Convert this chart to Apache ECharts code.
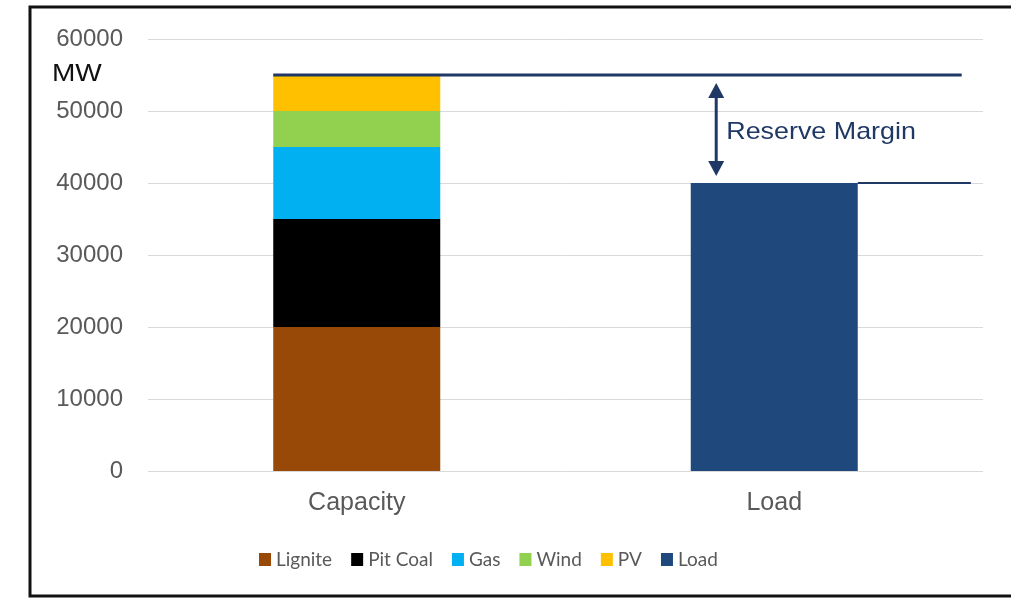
<!DOCTYPE html>
<html><head><meta charset="utf-8">
<script src="https://cdn.jsdelivr.net/npm/echarts@6/dist/echarts.min.js"></script>
<style>html,body{margin:0;padding:0;background:#fff}#c{width:1011px;height:599px}</style>
</head><body><div id="c"></div>
<script>
const categories = ['Capacity', 'Load'];
const lignite = [20000, '-'];
const pitCoal = [15000, '-'];
const gas = [10000, '-'];
const wind = [5000, '-'];
const pv = [5000, '-'];
const load = ['-', 40000];
const yTicks = [0, 10000, 20000, 30000, 40000, 50000, 60000];
const annotationText = 'Reserve Margin';
const unitLabel = 'MW';

const capacityTotal = [lignite, pitCoal, gas, wind, pv].reduce((s, a) => s + a[0], 0);
const loadTotal = load[1];

const chart = echarts.init(document.getElementById('c'));
const navy = '#1F3864';
const fnt = 'Liberation Sans, Arial, sans-serif';

function barSeries(name, data, color) {
  return { name, type: 'bar', stack: 'total', data, barWidth: '40%', itemStyle: { color }, z: 2 };
}

chart.setOption({
  animation: false,
  grid: { left: 148, right: 28, top: 39, bottom: 128 },
  legend: {
    bottom: 25, left: 254, itemWidth: 12, itemHeight: 13, itemGap: 19,
    icon: 'rect',
    textStyle: { fontFamily: 'Lato, sans-serif', fontSize: 19, color: '#595959' },
    data: ['Lignite', 'Pit Coal', 'Gas', 'Wind', 'PV', 'Load']
  },
  xAxis: {
    type: 'category', data: categories,
    axisLine: { show: false }, axisTick: { show: false },
    axisLabel: { fontFamily: fnt, fontSize: 25, color: '#595959', margin: 20 }
  },
  yAxis: {
    type: 'value', min: yTicks[0], max: yTicks[yTicks.length - 1], interval: 10000,
    axisLine: { show: false }, axisTick: { show: false },
    splitLine: { lineStyle: { color: '#D9D9D9', width: 1 } },
    axisLabel: { fontFamily: fnt, fontSize: 24, color: '#595959', margin: 25, formatter: v => String(v) }
  },
  graphic: [
    { type: 'rect', shape: { x: 30, y: 7, width: 1000, height: 589 }, style: { fill: 'none', stroke: '#111', lineWidth: 3 }, silent: true, z: 0 },
    { type: 'text', x: 52, y: 75, scaleX: 1.22, style: { text: unitLabel, font: '23px ' + fnt, fill: '#111', verticalAlign: 'middle' } }
  ],
  series: [
    barSeries('Lignite', lignite, '#984807'),
    barSeries('Pit Coal', pitCoal, '#000000'),
    barSeries('Gas', gas, '#00B0F0'),
    barSeries('Wind', wind, '#92D050'),
    barSeries('PV', pv, '#FFC000'),
    barSeries('Load', load, '#1F497D'),
    {
      type: 'custom', name: 'annotation', z: 5, silent: true,
      data: [[0, capacityTotal, loadTotal]],
      encode: { x: 0, y: 1 },
      renderItem: function (params, api) {
        const cap = api.coord([0, api.value(1)]);
        const ld = api.coord([1, api.value(2)]);
        const band = api.size([1, 0])[0];
        const x1 = cap[0] - band * 0.2;
        const x2 = ld[0] + band * 0.449;
        const xLoadR = ld[0] + band * 0.2;
        const xLoadEnd = ld[0] + band * 0.471;
        const ax = ld[0] - band * 0.139;
        const yTop = cap[1], yBot = ld[1];
        const head = 15, hw = 8;
        const tTop = yTop + 8, tBot = yBot - 7;
        return {
          type: 'group',
          children: [
            { type: 'line', shape: { x1: x1, y1: yTop, x2: x2, y2: yTop }, style: { stroke: navy, lineWidth: 3 } },
            { type: 'line', shape: { x1: xLoadR, y1: yBot, x2: xLoadEnd, y2: yBot }, style: { stroke: navy, lineWidth: 2 } },
            { type: 'line', shape: { x1: ax, y1: tTop + 10, x2: ax, y2: tBot - 10 }, style: { stroke: navy, lineWidth: 3 } },
            { type: 'polygon', shape: { points: [[ax, tTop], [ax - hw, tTop + head], [ax + hw, tTop + head]] }, style: { fill: navy } },
            { type: 'polygon', shape: { points: [[ax, tBot], [ax - hw, tBot - head], [ax + hw, tBot - head]] }, style: { fill: navy } },
            { type: 'text', x: ax + 10, y: (yTop + yBot) / 2 + 3, scaleX: 1.12, style: { text: annotationText, font: '24px ' + fnt, fill: navy, verticalAlign: 'middle', align: 'left' } }
          ]
        };
      }
    }
  ]
});
</script></body></html>
